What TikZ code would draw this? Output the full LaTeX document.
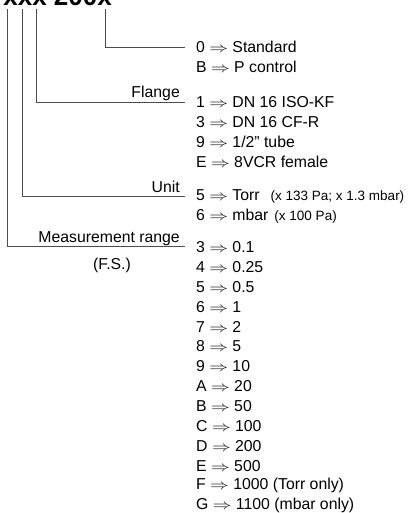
\documentclass[tikz,border=0pt]{standalone}
\usepackage{fontspec}
\setmainfont{Liberation Sans}
\newcommand{\impl}{\scalebox{1.3}[1.0]{$\Rightarrow$}}
\begin{document}
\begin{tikzpicture}[x=1pt,y=-1pt,
  conn/.style={draw=black!70, line width=0.9pt},
  item/.style={anchor=west, inner sep=0pt, font=\fontsize{15.8}{18}\selectfont},
  lbl/.style={anchor=base east, inner sep=0pt, font=\fontsize{15.8}{18}\selectfont}]
\useasboundingbox (0,0) rectangle (407,513);
\clip (0,0) rectangle (407,513);
\node[anchor=base east, inner sep=0pt, font=\fontsize{26}{26}\selectfont\bfseries] (title) at (112,6) {xxx 200x};
% connector ends
\coordinate (t1) at (7.3,9);
\coordinate (t2) at (22,9);
\coordinate (t3) at (36.7,9);
\coordinate (t4) at (105,9);
\coordinate (e4) at (185,47);
\coordinate (e3) at (185,102);
\coordinate (e2) at (185,196);
\coordinate (e1) at (185,246);
\draw[conn] (t4) |- (e4);
\draw[conn] (t3) |- (e3);
\draw[conn] (t2) |- (e2);
\draw[conn] (t1) |- (e1);
% labels
\node[lbl] (lflange) at (180,98) {Flange};
\node[lbl] (lunit) at (180,192) {Unit};
\node[lbl] (lrange) at (180,242) {Measurement range};
\node[inner sep=0pt, font=\fontsize{15.8}{18}\selectfont] (lfs) at (112,265) {(F.S.)};
% items
\node[item] (a1) at (196,47) {0 \impl{} Standard};
\node[item] (a2) at (196,67) {B \impl{} P control};
\node[item] (b1) at (196,102) {1 \impl{} DN 16 ISO-KF};
\node[item] (b2) at (196,122) {3 \impl{} DN 16 CF-R};
\node[item] (b3) at (196,142) {9 \impl{} 1/2\char34{} tube};
\node[item] (b4) at (196,162) {E \impl{} 8VCR female};
\node[item] (c1) at (196,196) {5 \impl{} Torr\hspace{11pt}{\fontsize{13.5}{16}\selectfont(x 133 Pa; x 1.3 mbar)}};
\node[item] (c2) at (196,216) {6 \impl{} mbar\hspace{6pt}{\fontsize{13.5}{16}\selectfont(x 100 Pa)}};
\foreach \k/\v [count=\i from 0] in {3/0.1,4/0.25,5/0.5,6/1,7/2,8/5,9/10,A/20,B/50,C/100,D/200,E/500,F/1000 (Torr only),G/1100 (mbar only)}{
  \node[item] (d\i) at (196,{247+19.9*\i}) {\k{} \impl{} \v};
}
\end{tikzpicture}
\end{document}
